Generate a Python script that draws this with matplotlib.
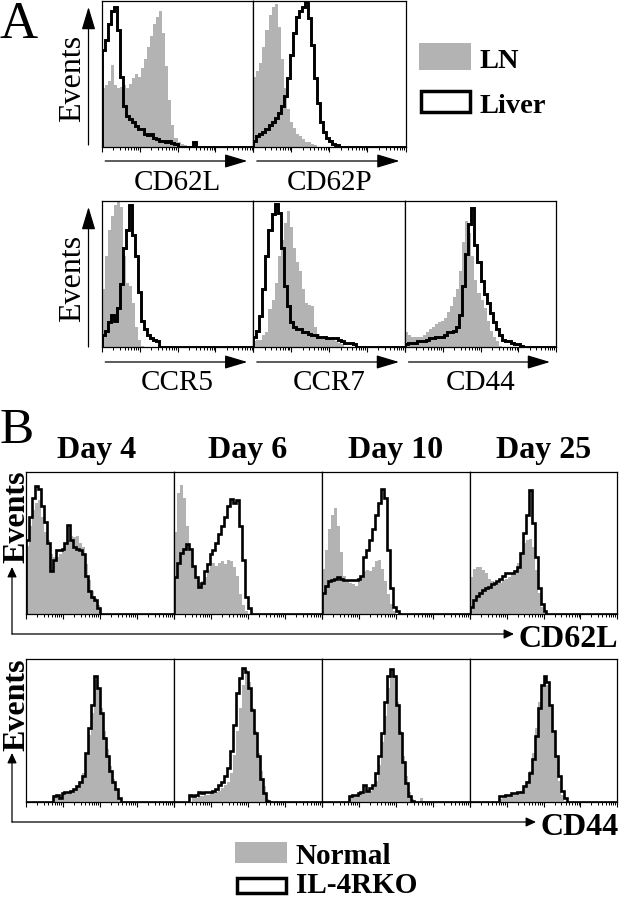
import numpy as np
import matplotlib
matplotlib.use('Agg')
import matplotlib.pyplot as plt
from matplotlib.patches import FancyArrowPatch, Rectangle

plt.rcParams['font.family'] = ['Liberation Serif', 'DejaVu Serif']

# ---------------- data (percent of panel height, bins of 0.08 log-decade from 10^0) ----
BIN = 0.08
NB = 50

# Panel A : LN (grey fill) vs Liver (black line)
a_markers = ["CD62L", "CD62P", "CCR5", "CCR7", "CD44"]
a_cd62l_ln = [40, 42, 45, 56, 42, 40, 41, 42, 40, 43, 47, 50, 48, 54, 60, 68, 76, 84, 89, 93,
              78, 55, 32, 15, 6, 3, 2, 1]
a_cd62l_liver = [66, 73, 84, 93, 96, 80, 48, 28, 21, 19, 17, 14, 12, 12, 9, 8, 9, 6, 5, 4,
                 4, 3.5, 4, 2.5, 2, 0, 0, 0, 0, 0, 3]
a_cd62p_ln = [48, 52, 57, 68, 80, 90, 96, 98, 82, 60, 40, 26, 17, 13, 9, 7, 5, 3.5, 3, 2, 1]
a_cd62p_liver = [4, 7, 9, 10, 12, 15, 17, 20, 23, 28, 35, 47, 63, 78, 89, 93, 96, 99, 88, 70,
                 47, 30, 17, 10, 6, 4, 2, 1]
a_ccr5_ln = [40, 62, 80, 90, 97, 100, 96, 62, 44, 42, 30, 14, 5, 1]
a_ccr5_liver = [8, 11, 17, 22, 18, 27, 43, 68, 80, 97, 77, 62, 38, 18, 12, 8, 6, 5, 4]
a_ccr7_ln = [4, 5, 5, 8, 10, 26, 32, 44, 62, 73, 85, 93, 82, 68, 58, 52, 40, 30, 29, 28,
             14, 9, 7, 7, 6, 6, 5, 4, 3, 2]
a_ccr7_liver = [7, 11, 21, 40, 62, 80, 91, 98, 92, 68, 42, 28, 17, 14, 12, 12, 10, 10, 9, 8,
                8, 7, 7, 7, 6, 6, 6, 6, 5, 4, 3, 3, 3, 2]
a_cd44_ln = [10, 8, 7, 7, 7, 7, 8, 10, 12, 14, 16, 17, 18, 20, 24, 28, 34, 40, 52, 72,
             86, 78, 62, 46, 37, 32, 27, 18, 11, 7, 4, 1]
a_cd44_liver = [2, 3, 3, 3, 4, 4, 4, 5, 6, 6, 7, 7, 7, 8, 10, 10, 11, 14, 22, 42,
                64, 84, 95, 70, 58, 45, 36, 30, 23, 17, 12, 8, 5, 4, 4, 3, 2, 2, 1]

# Panel B : Normal (grey fill) vs IL-4RKO (black line)
b_days = ["Day 4", "Day 6", "Day 10", "Day 25"]
b_cd62l_normal = [
    [48, 62, 73, 78, 80, 68, 58, 52, 42, 40, 40, 42, 46, 50, 52, 55, 54, 55, 50, 47,
     35, 24, 16, 11, 6],
    [58, 85, 91, 82, 62, 45, 34, 26, 22, 23, 26, 31, 34, 36, 34, 36, 37, 35, 38, 37,
     33, 27, 14, 6, 2],
    [32, 45, 60, 70, 75, 62, 44, 27, 23, 22, 21, 20, 23, 27, 30, 31, 30, 33, 37, 38,
     32, 23, 14, 7, 2],
    [26, 32, 33, 33, 31, 29, 25, 23, 22, 22, 22, 24, 25, 26, 28, 31, 36, 43, 50, 52,
     53, 47, 31, 15, 5, 1],
]
b_cd62l_ko = [
    [52, 68, 82, 90, 88, 76, 65, 50, 30, 38, 45, 45, 46, 50, 63, 52, 47, 46, 45, 42,
     27, 16, 12, 10, 4],
    [26, 36, 43, 46, 49, 46, 34, 26, 19, 22, 30, 35, 42, 45, 50, 56, 62, 68, 76, 81,
     78, 80, 62, 38, 12, 4],
    [15, 20, 23, 24, 25, 26, 25, 24, 24, 24, 24, 24, 25, 27, 40, 45, 52, 60, 70, 78,
     88, 82, 45, 18, 5, 2],
    [5, 10, 13, 15, 17, 18, 19, 21, 22, 23, 25, 27, 29, 29, 29, 30, 33, 43, 57, 70,
     87, 64, 40, 18, 7, 2],
]
b_cd44_normal = [
    [0, 0, 0, 0, 0, 0, 0, 0, 0, 5, 4, 5, 6, 6, 7, 8, 9, 11, 13, 20,
     33, 47, 62, 85, 80, 66, 50, 37, 25, 16, 9, 3],
    [0, 0, 0, 0, 0, 0, 3, 3, 4, 4, 5, 5, 6, 7, 7, 8, 10, 12, 14, 20,
     33, 50, 66, 82, 92, 84, 66, 50, 34, 22, 11, 2],
    [0, 0, 0, 0, 0, 0, 0, 0, 0, 4, 5, 5, 6, 6, 7, 7, 8, 11, 15, 26,
     42, 60, 80, 92, 88, 70, 50, 32, 18, 7, 2, 0, 0, 3],
    [0, 0, 0, 0, 0, 0, 0, 0, 0, 0, 2, 3, 4, 4, 5, 5, 6, 8, 11, 15,
     22, 34, 52, 70, 82, 88, 82, 68, 50, 32, 15, 5, 1],
]
b_cd44_ko = [
    [0, 0, 0, 0, 0, 0, 0, 0, 0, 4, 5, 3, 6, 7, 7, 8, 9, 11, 14, 18,
     34, 52, 68, 88, 80, 62, 45, 32, 22, 14, 9, 3],
    [0, 0, 0, 0, 0, 5, 4, 5, 7, 6, 7, 7, 7, 8, 9, 12, 14, 18, 24, 36,
     54, 76, 87, 94, 91, 80, 64, 48, 32, 16, 6, 1],
    [0, 0, 0, 0, 0, 0, 0, 0, 0, 4, 5, 5, 6, 7, 12, 8, 10, 12, 20, 32,
     48, 70, 88, 93, 88, 68, 48, 28, 13, 4, 1],
    [0, 0, 0, 0, 0, 0, 0, 0, 0, 0, 4, 4, 5, 5, 6, 6, 7, 7, 11, 14,
     20, 30, 46, 66, 82, 88, 84, 68, 50, 32, 18, 8, 3],
]

# ---------------- figure helpers ----------------
W, H = 620, 900
GREY = '#b3b3b3'
fig = plt.figure(figsize=(6.2, 9), dpi=100)


def fx(x):
    return x / W


def fy(y):
    return 1 - y / H


minor_pos = [d + np.log10(k) for d in range(4) for k in range(2, 10)]


def add_box(x0, y0, x1, y1):
    ax = fig.add_axes([fx(x0), fy(y1), (x1 - x0) / W, (y1 - y0) / H])
    ax.set_xlim(0, 4)
    ax.set_ylim(0, 100)
    ax.set_xticks(range(5))
    ax.set_xticks(minor_pos, minor=True)
    ax.set_yticks([])
    ax.tick_params(axis='x', which='major', direction='out', length=3.4, width=0.8,
                   labelbottom=False)
    ax.tick_params(axis='x', which='minor', direction='out', length=1.9, width=0.7)
    for s in ax.spines.values():
        s.set_linewidth(0.9)
    return ax


def draw_hist(ax, filled, line, lw):
    edges = np.arange(NB + 1) * BIN
    f = np.zeros(NB)
    f[:len(filled)] = filled
    ln = np.zeros(NB)
    ln[:len(line)] = line
    ax.stairs(f, edges, fill=True, color=GREY, lw=0)
    ax.stairs(ln, edges, color='black', lw=lw, baseline=0)


def arrow(x0, y0, x1, y1, hl, hw, lw):
    a = FancyArrowPatch((fx(x0), fy(y0)), (fx(x1), fy(y1)), transform=fig.transFigure,
                        arrowstyle=f'-|>,head_length={hl},head_width={hw}',
                        mutation_scale=1, lw=lw, color='black',
                        shrinkA=0, shrinkB=0)
    fig.add_artist(a)


def rect(x0, y0, x1, y1, fc, ec, lw):
    r = Rectangle((fx(x0), fy(y1)), (x1 - x0) / W, (y1 - y0) / H,
                  transform=fig.transFigure, facecolor=fc, edgecolor=ec, lw=lw)
    fig.add_artist(r)


def text(x, y, s, **kw):
    fig.text(fx(x), fy(y), s, **kw)


# ---------------- Panel A ----------------
text(0, 38, 'A', fontsize=38, ha='left', va='baseline')

a_data = [(a_cd62l_ln, a_cd62l_liver), (a_cd62p_ln, a_cd62p_liver),
          (a_ccr5_ln, a_ccr5_liver), (a_ccr7_ln, a_ccr7_liver),
          (a_cd44_ln, a_cd44_liver)]
a_boxes = [(101.7, 0.7, 253.3, 146.7), (253.3, 0.7, 405.5, 146.7),
           (101.7, 201, 253.3, 347), (253.3, 201, 405, 347), (405, 201, 556, 347)]
a_label_base = [190, 190, 390, 390, 390]
a_arrow_y = [161, 161, 362, 362, 362]
for i, (box, (ln_, lv_)) in enumerate(zip(a_boxes, a_data)):
    ax = add_box(*box)
    draw_hist(ax, ln_, lv_, 2.1)
    x0, _, x1, _ = box
    arrow(x0 + 3.5, a_arrow_y[i], x1 - 6, a_arrow_y[i], 14, 4.2, 0.9)
    text((x0 + x1) / 2, a_label_base[i], a_markers[i], fontsize=21, ha='center',
         va='baseline')

# Events labels / vertical arrows (A)
for yb, yt, yc in [(145, 7, 78.5), (347, 207, 278)]:
    arrow(88.5, yb, 88.5, yt, 14, 4.2, 0.9)
    fig.text(fx(80), fy(yc), 'Events', rotation=90, rotation_mode='anchor',
             ha='center', va='baseline', fontsize=23)

# Legend A
rect(419, 43, 471, 70, GREY, 'none', 0)
text(480, 68, 'LN', fontsize=20.5, fontweight='bold', ha='left', va='baseline')
rect(420.5, 91.5, 469.5, 111.5, 'white', 'black', 2.5)
text(480, 113, 'Liver', fontsize=20.5, fontweight='bold', ha='left', va='baseline')

# ---------------- Panel B ----------------
text(0, 443, 'B', fontsize=37, ha='left', va='baseline')

b_x = [26, 174, 322, 470, 617]
for i in range(4):
    x0, x1 = b_x[i], b_x[i + 1]
    ax = add_box(x0, 472, x1, 614)
    draw_hist(ax, b_cd62l_normal[i], b_cd62l_ko[i], 1.9)
    ax2 = add_box(x0, 659, x1, 802)
    draw_hist(ax2, b_cd44_normal[i], b_cd44_ko[i], 1.9)
    text((x0 + x1) / 2 - (3 if i == 0 else 0), 458, b_days[i], fontsize=23,
         fontweight='bold', ha='center', va='baseline')

for yb, yt, yc in [(634, 567, 517), (822, 753, 705)]:
    arrow(12, yb, 12, yt, 6, 2.8, 0.9)
    fig.text(fx(24.5), fy(yc), 'Events', rotation=90, rotation_mode='anchor',
             ha='center', va='baseline', fontsize=23, fontweight='bold')

arrow(12, 634, 514, 634, 6, 2.8, 0.9)
text(518, 647, 'CD62L', fontsize=23, fontweight='bold', ha='left', va='baseline')
arrow(12, 822, 536, 822, 6, 2.8, 0.9)
text(540, 835, 'CD44', fontsize=23, fontweight='bold', ha='left', va='baseline')

# Legend B
rect(235, 842, 287, 863, GREY, 'none', 0)
text(296, 864, 'Normal', fontsize=21, fontweight='bold', ha='left', va='baseline')
rect(236.5, 877.5, 285.5, 892.5, 'white', 'black', 2.5)
text(296, 893, 'IL-4RKO', fontsize=21, fontweight='bold', ha='left', va='baseline')

fig.savefig('out.png', dpi=100)
